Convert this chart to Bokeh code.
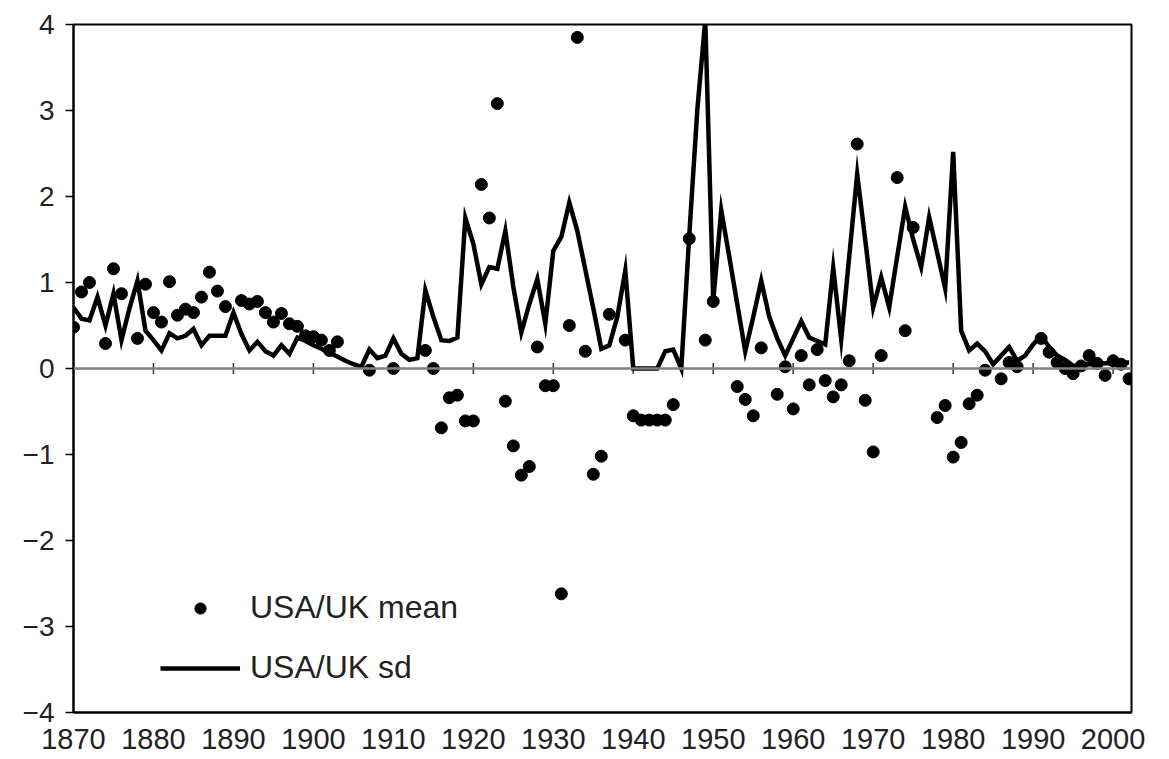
import math
from bokeh.plotting import figure
from bokeh.models import Range1d, FixedTicker, Legend, LegendItem, Span
from bokeh.embed import file_html
from bokeh.resources import INLINE

# ---- data ----
sd_years = list(range(1870, 2003))
sd_values = [
    0.71, 0.58, 0.56, 0.83, 0.50, 0.87, 0.33, 0.70, 1.02, 0.44,   # 1870-1879
    0.33, 0.21, 0.41, 0.35, 0.38, 0.46, 0.27, 0.38, 0.38, 0.38,   # 1880-1889
    0.65, 0.40, 0.21, 0.31, 0.20, 0.15, 0.27, 0.17, 0.36, 0.32,   # 1890-1899
    0.27, 0.23, 0.18, 0.14, 0.09, 0.05, 0.02, 0.22, 0.12, 0.15,   # 1900-1909
    0.35, 0.17, 0.10, 0.12, 0.91, 0.60, 0.33, 0.32, 0.36, 1.75,   # 1910-1919
    1.45, 0.98, 1.18, 1.16, 1.60, 0.95, 0.42, 0.75, 1.04, 0.52,   # 1920-1929
    1.37, 1.53, 1.93, 1.60, 1.15, 0.70, 0.23, 0.27, 0.60, 1.14,   # 1930-1939
    0.00, 0.00, 0.00, 0.00, 0.20, 0.22, 0.00, 1.55, 3.00, 4.05,   # 1940-1949
    0.79, 1.84, 1.30, 0.75, 0.20, 0.60, 1.02, 0.60, 0.35, 0.15,   # 1950-1959
    0.35, 0.55, 0.36, 0.32, 0.28, 1.17, 0.34, 1.30, 2.26, 1.50,   # 1960-1969
    0.71, 1.06, 0.71, 1.30, 1.88, 1.50, 1.18, 1.76, 1.35, 0.93,   # 1970-1979
    2.52, 0.44, 0.21, 0.29, 0.20, 0.05, 0.15, 0.25, 0.09, 0.15,   # 1980-1989
    0.28, 0.38, 0.25, 0.15, 0.10, 0.03, 0.04, 0.05, 0.05, 0.06,   # 1990-1999
    0.06, 0.07, 0.07,                                             # 2000-2002
]

mean_years = [
    1870, 1871, 1872, 1874, 1875, 1876, 1878, 1879, 1880, 1881,
    1882, 1883, 1884, 1885, 1886, 1887, 1888, 1889, 1891, 1892,
    1893, 1894, 1895, 1896, 1897, 1898, 1899, 1900, 1901, 1902,
    1903, 1907, 1910, 1914, 1915, 1916, 1917, 1918, 1919, 1920,
    1921, 1922, 1923, 1924, 1925, 1926, 1927, 1928, 1929, 1930,
    1931, 1932, 1933, 1934, 1935, 1936, 1937, 1939, 1940, 1941,
    1942, 1943, 1944, 1945, 1947, 1949, 1950, 1953, 1954, 1955,
    1956, 1958, 1959, 1960, 1961, 1962, 1963, 1964, 1965, 1966,
    1967, 1968, 1969, 1970, 1971, 1973, 1974, 1975, 1978, 1979,
    1980, 1981, 1982, 1983, 1984, 1986, 1987, 1988, 1991, 1992,
    1993, 1994, 1995, 1996, 1997, 1998, 1999, 2000, 2001, 2002,
]
mean_values = [
    0.48, 0.89, 1.00, 0.29, 1.16, 0.87, 0.35, 0.98, 0.65, 0.54,
    1.01, 0.62, 0.69, 0.65, 0.83, 1.12, 0.90, 0.72, 0.79, 0.75,
    0.78, 0.65, 0.54, 0.64, 0.52, 0.49, 0.38, 0.37, 0.33, 0.21,
    0.31, -0.02, 0.00, 0.21, 0.00, -0.69, -0.34, -0.31, -0.61, -0.61,
    2.14, 1.75, 3.08, -0.38, -0.90, -1.24, -1.14, 0.25, -0.20, -0.20,
    -2.62, 0.50, 3.85, 0.20, -1.23, -1.02, 0.63, 0.33, -0.55, -0.60,
    -0.60, -0.60, -0.60, -0.42, 1.51, 0.33, 0.78, -0.21, -0.36, -0.55,
    0.24, -0.30, 0.02, -0.47, 0.15, -0.19, 0.22, -0.14, -0.33, -0.19,
    0.09, 2.61, -0.37, -0.97, 0.15, 2.22, 0.44, 1.64, -0.57, -0.43,
    -1.03, -0.86, -0.41, -0.31, -0.02, -0.12, 0.07, 0.02, 0.35, 0.19,
    0.07, 0.00, -0.06, 0.03, 0.15, 0.06, -0.08, 0.09, 0.05, -0.12,
]

x_ticks = list(range(1870, 2001, 10))
x_tick_labels = [str(t) for t in x_ticks]
y_ticks = [-4, -3, -2, -1, 0, 1, 2, 3, 4]
y_tick_labels = ["\u22124", "\u22123", "\u22122", "\u22121", "0", "1", "2", "3", "4"]

series_labels = ["USA/UK mean", "USA/UK sd"]

FONT = "Liberation Sans"
TEXT = "#222222"

p = figure(
    frame_width=1058, frame_height=688,
    min_border_left=73, min_border_top=24, min_border_right=32, min_border_bottom=47,
    x_range=Range1d(1870, 2002.3), y_range=Range1d(-4, 4),
    output_backend="svg", toolbar_location=None,
)
p.grid.visible = False
p.outline_line_color = "black"
p.outline_line_width = 2
p.background_fill_color = "white"
p.border_fill_color = "white"

xa = p.xaxis[0]
xa.ticker = FixedTicker(ticks=x_ticks)
xa.major_label_overrides = {t: l for t, l in zip(x_ticks, x_tick_labels)}
xa.major_tick_in = 0
xa.major_tick_out = 0
xa.minor_tick_line_color = None
xa.axis_line_color = "black"
xa.axis_line_width = 2
xa.major_label_text_font = FONT
xa.major_label_text_font_size = "29px"
xa.major_label_text_color = TEXT
xa.major_label_standoff = 16

ya = p.yaxis[0]
ya.ticker = FixedTicker(ticks=y_ticks)
ya.major_label_overrides = {t: l for t, l in zip(y_ticks, y_tick_labels)}
ya.major_tick_in = 0
ya.major_tick_out = 8
ya.major_tick_line_color = "black"
ya.major_tick_line_width = 1.5
ya.minor_tick_line_color = None
ya.axis_line_color = "black"
ya.axis_line_width = 2
ya.major_label_text_font = FONT
ya.major_label_text_font_size = "28px"
ya.major_label_text_color = TEXT
ya.major_label_standoff = 11

# zero line and its small decade tick marks
p.add_layout(Span(location=0, dimension="width", line_color="#808080", line_width=2.5))
p.scatter(x_ticks, [0] * len(x_ticks), marker="dash", angle=math.pi / 2, size=11,
          line_color="#333333", line_width=1.5)

r_sd = p.line(sd_years, sd_values, line_width=4.5, line_color="black", line_join="miter")
r_mean = p.scatter(mean_years, mean_values, size=12, fill_color="black", line_color="black")

legend = Legend(
    items=[LegendItem(label=series_labels[0], renderers=[r_mean]),
           LegendItem(label=series_labels[1], renderers=[r_sd])],
    location=(87, 26),
    glyph_width=80, glyph_height=28, label_height=28,
    spacing=23, padding=0, margin=0,
    label_standoff=10,
    label_text_font=FONT, label_text_font_size="32px", label_text_color=TEXT,
    border_line_color=None, background_fill_alpha=0,
)
p.add_layout(legend)

open("out.html", "w").write(file_html(p, INLINE))
